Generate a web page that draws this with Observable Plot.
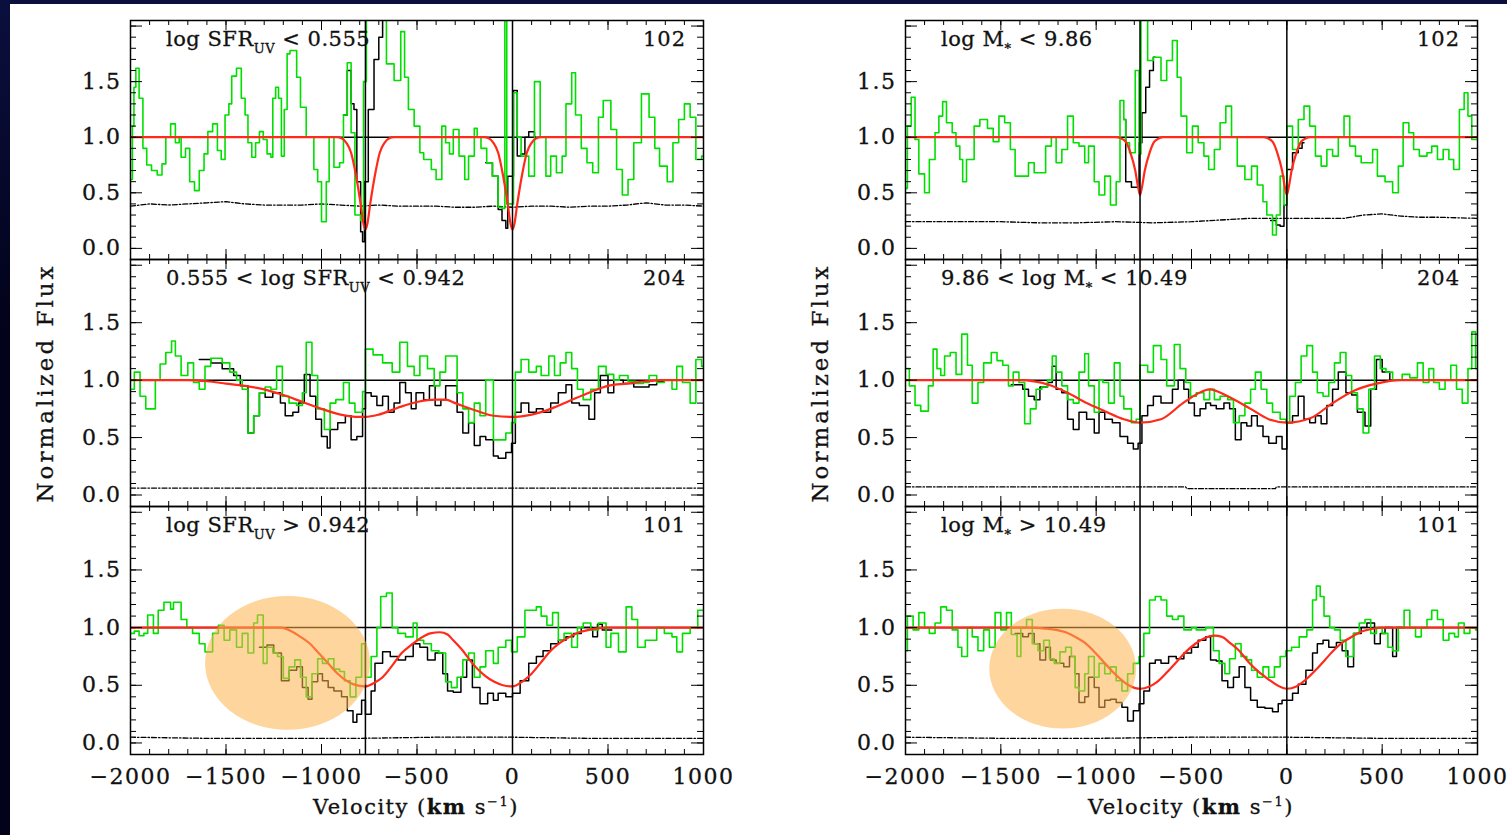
<!DOCTYPE html>
<html><head><meta charset="utf-8">
<script src="https://cdn.jsdelivr.net/npm/d3@7"></script>
<script src="https://cdn.jsdelivr.net/npm/@observablehq/plot@0.6"></script>
<style>
body{margin:0;background:#fff;}
#root{position:relative;width:1507px;height:835px;overflow:hidden;background:#fff;font-family:"DejaVu Serif",serif;color:#111;}
.ylab{position:absolute;font-size:23px;letter-spacing:3px;white-space:nowrap;transform:translate(-50%,-50%) rotate(-90deg);-webkit-text-stroke:0.3px #111;}
.xlab{position:absolute;font-size:21px;letter-spacing:1.5px;white-space:nowrap;transform:translate(-50%,-50%);-webkit-text-stroke:0.3px #111;}
.xlab sup{font-size:13px;}
</style></head><body><div id="root"></div><script>
// ---------------- data ----------------
const lineVelocities = [-770, 0];
const yTickLabels = [0, 0.5, 1, 1.5];
const xTickLabels = [-2000, -1500, -1000, -500, 0, 500, 1000];
const counts = ["102", "204", "101"];
const labelL1 = [["log SFR", ""], ["UV", "sub"], [" < 0.555", ""]];
const labelL2 = [["0.555 < log SFR", ""], ["UV", "sub"], [" < 0.942", ""]];
const labelL3 = [["log SFR", ""], ["UV", "sub"], [" > 0.942", ""]];
const labelR1 = [["log M", ""], ["*", "sub"], [" < 9.86", ""]];
const labelR2 = [["9.86 < log M", ""], ["*", "sub"], [" < 10.49", ""]];
const labelR3 = [["log M", ""], ["*", "sub"], [" > 10.49", ""]];

const greenL1 = [[-2000,0.62],[-1990,1.1],[-1982,1.45],[-1972,1.62],[-1955,1.35],[-1935,0.9],[-1915,0.75],[-1890,0.7],[-1860,0.66],[-1835,0.76],[-1815,1.0],[-1790,1.12],[-1765,0.95],[-1745,1.0],[-1735,0.82],[-1712,0.9],[-1690,0.6],[-1665,0.52],[-1640,0.7],[-1615,0.85],[-1595,1.05],[-1570,1.12],[-1545,0.88],[-1525,0.8],[-1505,1.2],[-1485,1.3],[-1470,1.55],[-1445,1.62],[-1420,1.35],[-1400,1.2],[-1385,0.95],[-1365,0.82],[-1345,0.95],[-1325,1.05],[-1305,0.98],[-1285,0.85],[-1265,0.82],[-1255,1.35],[-1240,1.45],[-1225,1.35],[-1210,0.83],[-1195,1.25],[-1180,1.75],[-1165,1.78],[-1130,1.54],[-1110,1.27],[-1080,1.0],[-1040,0.71],[-1020,0.6],[-1000,0.24],[-975,0.6],[-960,1.0],[-935,0.73],[-905,0.77],[-885,1.2],[-865,1.67],[-845,1.04],[-825,0.3],[-795,0.25],[-780,1.5],[-765,2.1],[-660,1.66],[-620,1.51],[-585,1.95],[-565,1.54],[-545,1.25],[-515,1.1],[-485,0.86],[-465,0.8],[-425,0.71],[-400,0.62],[-370,1.1],[-350,0.95],[-330,0.85],[-310,1.07],[-280,0.83],[-250,0.62],[-230,0.83],[-200,1.08],[-185,1.0],[-165,0.9],[-135,0.77],[-105,0.65],[-75,0.37],[-55,0.36],[-40,2.1],[-30,0.4],[5,1.4],[25,1.0],[45,0.83],[85,0.65],[115,1.5],[145,1.0],[175,0.65],[200,0.83],[230,0.68],[260,0.83],[280,1.3],[310,1.58],[330,1.2],[360,0.9],[390,0.77],[420,0.68],[450,1.18],[475,1.33],[515,1.07],[545,0.71],[575,0.48],[605,0.62],[635,0.95],[675,1.39],[715,1.18],[745,0.9],[770,0.74],[810,0.6],[840,0.95],[870,1.16],[900,1.3],[930,1.18],[960,0.8],[990,0.83],[1000,0.83]];
const blackL1 = [[-885,1.2],[-865,1.6],[-845,1.3],[-830,1.25],[-815,0.6],[-795,0.15],[-785,0.06],[-775,0.6],[-755,1.25],[-725,1.7],[-700,1.9],[-680,2.1],[-650,2.1],[-645,null],[-140,0.77],[-105,0.65],[-75,0.35],[-55,0.25],[-35,0.18],[-25,0.65],[5,1.42],[25,0.83],[45,0.85],[65,1.0],[85,1.05],[115,1.0],[120,1.0]];
const redL1 = [[-2000,1],[-920,1],[-895,0.99],[-870,0.95],[-845,0.86],[-820,0.66],[-795,0.4],[-780,0.22],[-770,0.17],[-760,0.22],[-745,0.4],[-720,0.66],[-695,0.86],[-670,0.95],[-645,0.99],[-620,1],[-150,1],[-125,0.99],[-100,0.95],[-75,0.86],[-50,0.66],[-25,0.4],[-10,0.22],[0,0.17],[10,0.22],[25,0.4],[50,0.66],[75,0.86],[100,0.95],[125,0.99],[150,1],[1000,1]];
const dotL1 = [[-2000,0.38],[-1900,0.4],[-1800,0.39],[-1700,0.4],[-1600,0.41],[-1500,0.42],[-1400,0.4],[-1300,0.39],[-1200,0.39],[-1100,0.39],[-1000,0.4],[-900,0.39],[-800,0.38],[-700,0.39],[-600,0.38],[-500,0.38],[-400,0.38],[-300,0.37],[-200,0.37],[-100,0.38],[0,0.37],[100,0.38],[200,0.38],[300,0.37],[400,0.38],[500,0.38],[600,0.39],[700,0.41],[800,0.39],[900,0.39],[1000,0.38]];

const greenL2 = [[-2000,0.92],[-1980,1.07],[-1950,0.86],[-1920,0.75],[-1870,1.0],[-1845,1.14],[-1815,1.24],[-1785,1.34],[-1765,1.21],[-1735,1.04],[-1700,1.15],[-1670,0.98],[-1640,0.92],[-1610,1.12],[-1580,1.19],[-1520,1.15],[-1480,1.07],[-1445,1.0],[-1415,0.92],[-1385,0.54],[-1355,0.69],[-1325,0.89],[-1295,0.94],[-1265,0.92],[-1235,1.12],[-1205,0.86],[-1170,0.8],[-1130,0.78],[-1100,0.89],[-1080,1.33],[-1050,1.04],[-1020,0.75],[-985,0.57],[-955,0.8],[-925,0.83],[-885,0.98],[-855,0.8],[-825,0.72],[-785,0.9],[-770,1.27],[-730,1.22],[-680,1.15],[-630,1.07],[-590,1.33],[-550,1.12],[-515,1.04],[-485,1.21],[-445,1.1],[-410,0.95],[-380,1.07],[-350,1.21],[-290,0.89],[-260,0.75],[-230,0.63],[-200,0.8],[-170,0.69],[-140,1.0],[-100,0.48],[-35,0.54],[-5,0.63],[15,1.07],[45,1.18],[85,1.07],[125,1.12],[150,1.04],[190,1.21],[220,1.04],[250,1.15],[280,1.24],[310,1.1],[340,0.92],[370,0.83],[410,0.92],[450,1.12],[490,1.05],[530,1.0],[560,1.04],[605,0.99],[645,0.97],[685,0.98],[715,1.04],[755,0.98],[795,1.0],[835,0.92],[860,1.12],[890,0.98],[930,0.8],[960,1.18],[990,1.12],[1000,1.12]];
const blackL2 = [[-1640,1.18],[-1580,1.15],[-1520,1.1],[-1460,1.04],[-1425,0.95],[-1385,0.54],[-1355,0.69],[-1325,0.89],[-1295,0.85],[-1255,0.89],[-1215,0.8],[-1190,0.69],[-1150,0.72],[-1120,0.8],[-1090,1.05],[-1060,0.86],[-1030,0.66],[-1000,0.51],[-970,0.41],[-955,0.57],[-915,0.63],[-875,0.69],[-845,0.48],[-815,0.51],[-785,0.75],[-770,0.89],[-740,0.86],[-710,0.78],[-680,0.86],[-650,0.72],[-620,0.8],[-590,0.98],[-560,0.89],[-530,0.75],[-505,0.89],[-465,0.83],[-435,0.95],[-405,0.78],[-375,0.83],[-350,0.95],[-290,0.72],[-260,0.54],[-230,0.63],[-200,0.43],[-170,0.51],[-140,0.48],[-100,0.34],[-75,0.32],[-35,0.37],[-5,0.45],[15,0.72],[45,0.8],[85,0.72],[125,0.75],[160,0.72],[200,0.8],[240,0.89],[280,0.96],[310,0.8],[350,0.78],[400,0.66],[430,0.89],[460,1.04],[500,0.89],[530,1.0],[580,0.97],[635,0.94],[715,0.96],[755,0.99],[795,1.0],[890,1.0]];
const redL2 = [[-2000,1],[-1700,1],[-1600,0.99],[-1500,0.97],[-1400,0.95],[-1300,0.92],[-1200,0.87],[-1100,0.81],[-1000,0.75],[-900,0.7],[-800,0.68],[-770,0.68],[-700,0.7],[-600,0.76],[-500,0.81],[-400,0.83],[-350,0.83],[-300,0.8],[-200,0.74],[-100,0.69],[0,0.68],[100,0.7],[200,0.75],[300,0.82],[400,0.89],[500,0.95],[600,0.97],[700,0.99],[800,1],[1000,1]];
const dotL2 = [[-2000,0.06],[-1500,0.06],[-1000,0.06],[-500,0.06],[0,0.06],[500,0.06],[1000,0.06]];

const greenL3 = [[-2000,0.95],[-1980,0.97],[-1955,0.93],[-1930,0.95],[-1910,1.11],[-1880,0.95],[-1855,1.15],[-1825,1.22],[-1790,1.16],[-1775,1.22],[-1735,1.07],[-1705,1.0],[-1675,0.95],[-1640,0.86],[-1610,0.79],[-1570,0.95],[-1540,1.02],[-1510,0.89],[-1480,0.98],[-1445,0.83],[-1415,0.95],[-1385,0.78],[-1355,1.04],[-1335,1.11],[-1305,0.69],[-1285,0.83],[-1255,0.78],[-1230,0.75],[-1200,0.56],[-1170,0.66],[-1140,0.72],[-1110,0.57],[-1080,0.4],[-1050,0.6],[-1020,0.73],[-995,0.69],[-965,0.73],[-935,0.64],[-905,0.62],[-880,0.54],[-850,0.4],[-820,0.57],[-790,0.86],[-770,0.57],[-740,0.75],[-710,1.0],[-690,1.27],[-660,1.3],[-630,1.0],[-600,0.95],[-560,0.92],[-520,1.04],[-500,0.89],[-465,0.86],[-425,0.8],[-385,0.78],[-350,0.53],[-320,0.48],[-290,0.57],[-260,0.72],[-230,0.78],[-200,0.57],[-170,0.66],[-140,0.8],[-100,0.69],[-75,0.83],[-35,0.89],[-5,0.79],[25,0.92],[65,1.15],[95,1.15],[125,1.18],[150,1.1],[180,1.02],[210,1.13],[240,0.89],[270,0.95],[310,0.83],[340,1.0],[370,1.04],[410,0.98],[450,1.04],[490,0.83],[515,0.95],[555,0.79],[595,1.18],[625,1.07],[655,0.83],[695,0.89],[755,1.0],[795,0.95],[835,0.92],[860,0.79],[890,0.95],[930,1.0],[970,1.15],[1000,1.15]];
const blackL3 = [[-1325,0.83],[-1285,0.85],[-1250,0.78],[-1210,0.54],[-1170,0.63],[-1130,0.66],[-1100,0.48],[-1070,0.38],[-1050,0.53],[-1020,0.6],[-995,0.54],[-965,0.48],[-935,0.45],[-895,0.4],[-865,0.28],[-835,0.18],[-815,0.25],[-790,0.37],[-770,0.25],[-740,0.45],[-720,0.69],[-680,0.79],[-640,0.75],[-600,0.72],[-560,0.75],[-520,0.86],[-485,0.83],[-445,0.72],[-405,0.78],[-365,0.6],[-340,0.45],[-310,0.44],[-270,0.57],[-240,0.72],[-210,0.48],[-170,0.34],[-130,0.43],[-100,0.37],[-75,0.43],[-35,0.4],[0,0.43],[40,0.54],[85,0.69],[125,0.75],[160,0.8],[200,0.86],[240,0.89],[280,0.92],[320,0.95],[360,1.0],[420,0.92],[445,1.03],[470,0.98],[520,0.98]];
const redL3 = [[-2000,1],[-1300,1],[-1210,1.0],[-1160,0.97],[-1110,0.92],[-1060,0.86],[-1015,0.78],[-965,0.69],[-915,0.6],[-870,0.54],[-835,0.51],[-770,0.49],[-725,0.52],[-680,0.57],[-630,0.67],[-580,0.78],[-530,0.85],[-480,0.91],[-430,0.95],[-380,0.96],[-340,0.94],[-310,0.89],[-260,0.8],[-210,0.69],[-150,0.59],[-95,0.53],[-50,0.5],[0,0.49],[50,0.53],[100,0.6],[150,0.7],[200,0.8],[250,0.87],[300,0.92],[350,0.96],[400,0.98],[450,0.995],[500,1],[1000,1]];
const dotL3 = [[-2000,0.05],[-1600,0.04],[-1200,0.04],[-800,0.04],[-400,0.05],[0,0.05],[400,0.04],[1000,0.04]];

const greenR1 = [[-2000,0.54],[-1990,1.1],[-1970,1.36],[-1950,0.98],[-1930,0.67],[-1900,0.5],[-1875,0.8],[-1845,1.04],[-1825,1.19],[-1805,1.32],[-1785,1.13],[-1755,1.04],[-1735,0.92],[-1715,0.8],[-1700,0.6],[-1680,0.8],[-1640,1.1],[-1610,1.16],[-1570,1.08],[-1540,0.96],[-1510,1.19],[-1480,1.13],[-1450,0.89],[-1425,0.65],[-1355,0.77],[-1325,0.68],[-1265,0.92],[-1235,1.0],[-1210,0.77],[-1180,0.89],[-1150,1.19],[-1120,0.95],[-1090,0.92],[-1060,0.77],[-1040,0.92],[-1010,0.6],[-985,0.48],[-955,0.65],[-925,0.39],[-895,0.6],[-875,1.33],[-855,1.16],[-845,0.95],[-825,0.86],[-795,1.6],[-775,0.85],[-765,2.1],[-730,1.69],[-700,1.72],[-660,1.51],[-630,1.69],[-600,1.87],[-575,1.54],[-555,1.19],[-525,0.86],[-495,1.1],[-465,0.95],[-435,0.83],[-410,0.71],[-380,0.89],[-350,1.13],[-320,1.28],[-290,1.0],[-260,0.74],[-220,0.62],[-185,0.74],[-155,0.57],[-125,0.42],[-105,0.3],[-75,0.12],[-55,0.3],[-35,0.65],[-15,0.39],[0,1.1],[30,0.89],[60,1.16],[90,1.28],[120,1.1],[150,0.83],[180,0.74],[210,0.89],[240,0.83],[270,1.0],[300,1.19],[330,0.92],[360,0.83],[390,0.77],[450,0.89],[475,0.65],[515,0.6],[555,0.5],[585,0.74],[610,1.13],[640,1.04],[665,0.89],[695,0.83],[735,0.86],[760,0.92],[790,0.8],[820,0.89],[850,0.8],[875,0.71],[905,1.25],[930,1.4],[950,1.19],[970,0.98],[1000,0.98]];
const blackR1 = [[-855,1.16],[-845,0.6],[-815,0.55],[-775,0.95],[-760,1.22],[-740,1.45],[-720,1.6],[-700,1.72],[-690,1.72],[-685,null],[-85,0.25],[-55,0.21],[-35,0.2],[-15,0.39],[0,0.71],[30,0.86],[60,0.9],[80,0.95],[90,0.95]];
const redR1 = [[-2000,1],[-900,1],[-870,0.99],[-845,0.96],[-820,0.86],[-795,0.7],[-780,0.55],[-770,0.48],[-760,0.55],[-745,0.7],[-720,0.86],[-695,0.96],[-670,0.99],[-645,1],[-125,1],[-100,0.99],[-75,0.96],[-50,0.86],[-25,0.7],[-10,0.55],[0,0.48],[10,0.55],[25,0.7],[50,0.86],[75,0.96],[100,0.99],[125,1],[1000,1]];
const dotR1 = [[-2000,0.24],[-1900,0.24],[-1700,0.24],[-1500,0.24],[-1300,0.23],[-1100,0.23],[-900,0.24],[-700,0.23],[-500,0.24],[-300,0.26],[-200,0.27],[0,0.27],[200,0.27],[300,0.27],[400,0.3],[500,0.31],[600,0.29],[700,0.28],[800,0.28],[1000,0.27]];

const greenR2 = [[-2000,1.1],[-1980,0.95],[-1950,0.78],[-1920,0.73],[-1880,0.95],[-1855,1.27],[-1835,1.1],[-1815,1.04],[-1795,1.21],[-1765,1.24],[-1735,1.05],[-1705,1.4],[-1675,1.13],[-1650,0.8],[-1620,0.98],[-1590,1.15],[-1550,1.24],[-1520,1.17],[-1490,1.13],[-1460,0.95],[-1435,1.07],[-1405,0.98],[-1375,0.62],[-1345,0.75],[-1315,0.92],[-1285,0.94],[-1255,1.0],[-1230,1.21],[-1210,1.07],[-1180,0.95],[-1150,0.83],[-1120,0.8],[-1090,1.07],[-1060,1.23],[-1040,0.95],[-1010,0.72],[-985,1.0],[-965,0.98],[-935,0.8],[-905,1.15],[-875,0.86],[-855,0.75],[-815,0.63],[-790,0.66],[-770,1.13],[-730,1.07],[-700,1.3],[-660,1.18],[-630,0.95],[-590,1.31],[-560,1.1],[-530,0.98],[-505,0.86],[-475,0.89],[-435,0.83],[-405,0.92],[-380,0.83],[-350,0.86],[-310,0.83],[-280,0.63],[-250,0.69],[-220,0.8],[-190,0.92],[-165,1.07],[-135,0.92],[-105,0.8],[-75,0.72],[-35,0.66],[-5,0.63],[15,0.86],[45,0.98],[75,1.21],[105,1.3],[135,1.07],[160,0.89],[190,0.86],[220,0.98],[250,1.15],[280,1.24],[310,1.04],[340,0.89],[370,0.75],[400,0.54],[430,0.92],[460,1.21],[490,1.1],[520,1.07],[555,1.0],[605,1.05],[645,1.02],[685,1.15],[715,0.98],[745,1.1],[770,0.98],[800,0.92],[830,1.0],[860,1.13],[890,0.92],[920,0.8],[950,1.1],[970,1.42],[990,1.1],[1000,1.1]];
const blackR2 = [[-1445,0.96],[-1385,0.92],[-1355,0.86],[-1325,0.83],[-1295,0.94],[-1255,0.98],[-1230,1.12],[-1210,0.92],[-1180,0.89],[-1150,0.66],[-1120,0.57],[-1090,0.72],[-1050,0.66],[-1010,0.54],[-985,0.72],[-955,0.66],[-915,0.63],[-875,0.51],[-835,0.45],[-805,0.4],[-780,0.45],[-760,0.69],[-730,0.78],[-700,0.86],[-660,0.8],[-600,0.92],[-570,1.0],[-540,0.92],[-515,0.8],[-485,0.69],[-455,0.75],[-425,0.8],[-400,0.78],[-370,0.75],[-330,0.8],[-300,0.75],[-270,0.48],[-240,0.63],[-210,0.6],[-185,0.69],[-155,0.6],[-125,0.51],[-95,0.45],[-55,0.51],[-25,0.4],[0,0.63],[30,0.69],[60,0.86],[90,0.66],[120,0.63],[150,0.69],[180,0.62],[210,0.78],[240,0.92],[270,1.07],[310,0.89],[340,0.87],[370,0.72],[410,0.6],[440,0.92],[470,1.18],[500,1.07],[540,1.0],[600,1.0]];
const redR2 = [[-2000,1],[-1400,1],[-1250,0.96],[-1150,0.89],[-1050,0.8],[-955,0.73],[-855,0.66],[-770,0.63],[-660,0.66],[-545,0.8],[-470,0.88],[-405,0.92],[-310,0.86],[-190,0.75],[-95,0.66],[0,0.63],[125,0.67],[240,0.8],[355,0.91],[470,0.97],[600,1],[1000,1]];
const dotR2 = [[-2000,0.07],[-1000,0.07],[-530,0.07],[-525,0.055],[-60,0.055],[-55,0.07],[500,0.07],[1000,0.07]];

const greenR3 = [[-2000,0.8],[-1990,1.1],[-1960,0.98],[-1930,1.13],[-1900,1.0],[-1875,0.95],[-1845,1.04],[-1815,1.18],[-1785,1.15],[-1755,0.98],[-1725,0.83],[-1705,0.75],[-1675,1.0],[-1650,0.92],[-1620,0.8],[-1590,0.98],[-1560,0.83],[-1530,1.13],[-1500,0.98],[-1470,1.13],[-1445,0.94],[-1415,0.75],[-1395,1.0],[-1365,1.07],[-1335,0.86],[-1305,0.8],[-1275,0.89],[-1245,0.73],[-1220,0.69],[-1190,0.79],[-1160,0.83],[-1130,0.75],[-1110,0.48],[-1090,0.45],[-1060,0.6],[-1040,0.75],[-1010,0.57],[-985,0.69],[-955,0.6],[-925,0.66],[-895,0.54],[-865,0.45],[-835,0.6],[-805,0.69],[-775,0.75],[-750,0.95],[-720,1.24],[-690,1.27],[-660,1.24],[-630,1.1],[-600,1.07],[-570,1.1],[-540,0.98],[-500,1.0],[-475,0.98],[-425,1.0],[-385,0.8],[-355,0.69],[-325,0.6],[-300,0.73],[-270,0.86],[-240,0.75],[-210,0.72],[-185,0.63],[-155,0.57],[-125,0.66],[-95,0.57],[-65,0.66],[-35,0.75],[-5,0.8],[25,0.83],[65,0.92],[105,0.98],[135,1.24],[155,1.36],[175,1.27],[195,1.1],[225,1.0],[250,0.98],[280,0.89],[310,0.75],[350,0.95],[380,1.04],[410,1.07],[440,0.95],[470,1.0],[500,0.95],[530,0.83],[555,0.8],[585,1.0],[615,1.15],[645,1.0],[675,0.92],[705,1.0],[735,1.07],[760,1.15],[790,1.07],[820,0.89],[850,0.95],[880,0.92],[900,1.04],[930,0.95],[960,1.0],[990,0.98],[1000,0.98]];
const blackR3 = [[-1425,0.95],[-1385,0.92],[-1355,0.95],[-1325,0.86],[-1295,0.72],[-1265,0.83],[-1240,0.72],[-1210,0.69],[-1170,0.66],[-1140,0.75],[-1110,0.6],[-1090,0.35],[-1060,0.4],[-1040,0.57],[-1010,0.48],[-985,0.31],[-955,0.37],[-925,0.38],[-895,0.35],[-865,0.31],[-835,0.19],[-805,0.28],[-775,0.34],[-750,0.45],[-720,0.69],[-690,0.72],[-660,0.69],[-620,0.75],[-580,0.73],[-540,0.78],[-500,0.83],[-465,0.89],[-425,0.92],[-400,0.72],[-370,0.71],[-340,0.54],[-310,0.48],[-280,0.57],[-250,0.66],[-220,0.48],[-190,0.37],[-155,0.31],[-115,0.3],[-75,0.27],[-45,0.34],[-25,0.37],[30,0.43],[60,0.51],[100,0.63],[135,0.78],[160,0.86],[190,0.89],[220,0.83],[260,0.87],[290,0.8],[320,0.66],[350,0.95],[390,1.0],[420,1.04],[460,0.86],[490,0.95],[515,1.0],[555,0.75],[575,1.0],[605,1.0]];
const redR3 = [[-2000,1],[-1340,1],[-1260,0.99],[-1210,0.98],[-1160,0.96],[-1110,0.92],[-1060,0.87],[-1015,0.8],[-965,0.71],[-915,0.62],[-870,0.55],[-830,0.5],[-770,0.47],[-720,0.49],[-680,0.53],[-630,0.61],[-580,0.7],[-530,0.79],[-480,0.86],[-430,0.91],[-380,0.93],[-340,0.92],[-300,0.87],[-250,0.8],[-200,0.7],[-150,0.62],[-95,0.55],[-50,0.5],[0,0.47],[50,0.49],[100,0.55],[150,0.63],[200,0.72],[250,0.81],[300,0.88],[350,0.93],[400,0.97],[450,0.99],[500,1],[1000,1]];
const dotR3 = [[-2000,0.05],[-1500,0.04],[-1000,0.04],[-500,0.05],[0,0.05],[500,0.04],[1000,0.04]];

const ellipseL3 = [{cx: -1175, cy: 0.69, rx: 432, ry: 0.58}];
const ellipseR3 = [{cx: -1173, cy: 0.64, rx: 385, ry: 0.52}];

// ---------------- layout ----------------
const colFrames = [{x: 130, w: 573}, {x: 905, w: 572}];
const rowFrames = [{y: 20, h: 239}, {y: 259, h: 247}, {y: 506, h: 248}];
const panels = [
  {col: 0, row: 0, green: greenL1, black: blackL1, red: redL1, dot: dotL1, label: labelL1},
  {col: 0, row: 1, green: greenL2, black: blackL2, red: redL2, dot: dotL2, label: labelL2},
  {col: 0, row: 2, green: greenL3, black: blackL3, red: redL3, dot: dotL3, label: labelL3, ellipse: ellipseL3},
  {col: 1, row: 0, green: greenR1, black: blackR1, red: redR1, dot: dotR1, label: labelR1},
  {col: 1, row: 1, green: greenR2, black: blackR2, red: redR2, dot: dotR2, label: labelR2},
  {col: 1, row: 2, green: greenR3, black: blackR3, red: redR3, dot: dotR3, label: labelR3, ellipse: ellipseR3}
];

const root = document.getElementById("root");
const minorX = d3.range(-2000, 1001, 100), majorX = d3.range(-2000, 1001, 500);
const minorY = d3.range(0, 21).map(i => +(i * 0.1).toFixed(1)), majorY = [0, 0.5, 1, 1.5, 2];
const fmtX = d => d < 0 ? "\u2212" + Math.abs(d) : String(d);
const V = d => d[0], F = d => d[1];

function labelMark(label, count) {
  return (index, scales, values, dims) => {
    const g = d3.create("svg:g").attr("font-family", "DejaVu Serif, serif").attr("fill", "#111").attr("font-size", 21)
      .attr("stroke", "#111").attr("stroke-width", 0.3);
    const t = g.append("text").attr("x", dims.marginLeft + 36).attr("y", dims.marginTop + 26)
      .attr("text-anchor", "start").style("white-space", "pre").attr("letter-spacing", 0.5);
    let shifted = false;
    for (const [s, kind] of label) {
      const ts = t.append("tspan").text(s);
      if (kind === "sub") { ts.attr("dy", 7).attr("font-size", 13); shifted = true; }
      else if (shifted) { ts.attr("dy", -7); shifted = false; }
    }
    g.append("text").attr("x", dims.width - dims.marginRight - 17).attr("y", dims.marginTop + 26)
      .attr("text-anchor", "end").attr("letter-spacing", 1).text(count);
    return g.node();
  };
}
function ellipseMark(ell) {
  return (index, scales) => {
    const g = d3.create("svg:g");
    for (const e of ell) {
      const cx = scales.x(e.cx), cy = scales.y(e.cy);
      g.append("ellipse").attr("cx", cx).attr("cy", cy)
        .attr("rx", Math.abs(scales.x(e.cx + e.rx) - cx)).attr("ry", Math.abs(scales.y(e.cy + e.ry) - cy))
        .attr("fill", "#fbb24c").attr("fill-opacity", 0.55);
    }
    return g.node();
  };
}

for (const p of panels) {
  const cf = colFrames[p.col], rf = rowFrames[p.row];
  const bottom = p.row === 2;
  const mL = 130, mR = 20, mT = 20, mB = bottom ? 60 : 20;
  const W = cf.w, H = rf.h;
  const marks = [
    Plot.ruleY([1], {stroke: "black", strokeWidth: 1.5}),
    Plot.line(p.dot, {x: V, y: F, stroke: "black", strokeWidth: 1.3, strokeDasharray: "5,2,1.5,2"}),
    Plot.line(p.black, {x: V, y: F, curve: "step-after", stroke: "black", strokeWidth: 1.5, clip: true}),
    Plot.line(p.green, {x: V, y: F, curve: "step-after", stroke: "#00e000", strokeWidth: 1.6, clip: true}),
    Plot.line(p.red, {x: V, y: F, curve: "monotone-x", stroke: "#ff2a1a", strokeWidth: 2.2, clip: true}),
    Plot.ruleX(lineVelocities, {stroke: "black", strokeWidth: 1.5}),
    // inward ticks
    Plot.tickX(minorX, {x: d => d, insetTop: H - 5, stroke: "black", strokeWidth: 1}),
    Plot.tickX(majorX, {x: d => d, insetTop: H - 10, stroke: "black", strokeWidth: 1}),
    Plot.tickX(minorX, {x: d => d, insetBottom: H - 5, stroke: "black", strokeWidth: 1}),
    Plot.tickX(majorX, {x: d => d, insetBottom: H - 10, stroke: "black", strokeWidth: 1}),
    Plot.tickY(minorY, {y: d => d, insetRight: W - 6, stroke: "black", strokeWidth: 1}),
    Plot.tickY(majorY, {y: d => d, insetRight: W - 12, stroke: "black", strokeWidth: 1}),
    Plot.tickY(minorY, {y: d => d, insetLeft: W - 6, stroke: "black", strokeWidth: 1}),
    Plot.tickY(majorY, {y: d => d, insetLeft: W - 12, stroke: "black", strokeWidth: 1}),
    Plot.frame({stroke: "black", strokeWidth: 1.5}),
    labelMark(p.label, counts[p.row])
  ];
  if (p.ellipse) marks.push(ellipseMark(p.ellipse));
  const chart = Plot.plot({
    width: W + mL + mR, height: H + mT + mB,
    marginLeft: mL, marginRight: mR, marginTop: mT, marginBottom: mB,
    style: {background: "transparent", overflow: "visible", fontFamily: "DejaVu Serif, serif", fontSize: "22px", color: "#111"},
    x: {domain: [-2000, 1000], ticks: xTickLabels, tickFormat: fmtX, tickSize: 0, tickPadding: 14, label: null, axis: bottom ? "bottom" : null},
    y: {domain: [-0.1, 2.05], ticks: yTickLabels, tickFormat: d => d.toFixed(1), tickSize: 0, tickPadding: 9, label: null},
    marks
  });
  chart.style.position = "absolute";
  chart.style.left = (cf.x - mL) + "px";
  chart.style.top = (rf.y - mT) + "px";
  chart.style.maxWidth = "none";
  chart.querySelectorAll("g[aria-label='x-axis'] text, g[aria-label='y-axis'] text, g[aria-label='x-axis tick label'] text, g[aria-label='y-axis tick label'] text").forEach(t => {
    t.setAttribute("letter-spacing", "1.5");
    t.setAttribute("stroke", "#111");
    t.setAttribute("stroke-width", "0.3");
  });
  root.appendChild(chart);
}

// dark slide edges
const edgeL = document.createElement("div");
edgeL.style.cssText = "position:absolute;left:0;top:0;width:10px;height:835px;background:linear-gradient(#0b0f3e,#02021a 40%,#02021a);";
root.appendChild(edgeL);
const edgeT = document.createElement("div");
edgeT.style.cssText = "position:absolute;left:0;top:0;width:1507px;height:4px;background:#0b0f3e;";
root.appendChild(edgeT);

// axis titles
for (const x of [45, 820]) {
  const d = document.createElement("div");
  d.className = "ylab"; d.textContent = "Normalized Flux";
  d.style.left = x + "px"; d.style.top = "383px";
  root.appendChild(d);
}
for (const x of [416, 1191]) {
  const d = document.createElement("div");
  d.className = "xlab"; d.innerHTML = "Velocity (<b>km</b> s<sup>\u22121</sup>)";
  d.style.left = x + "px"; d.style.top = "806px";
  root.appendChild(d);
}
</script></body></html>
